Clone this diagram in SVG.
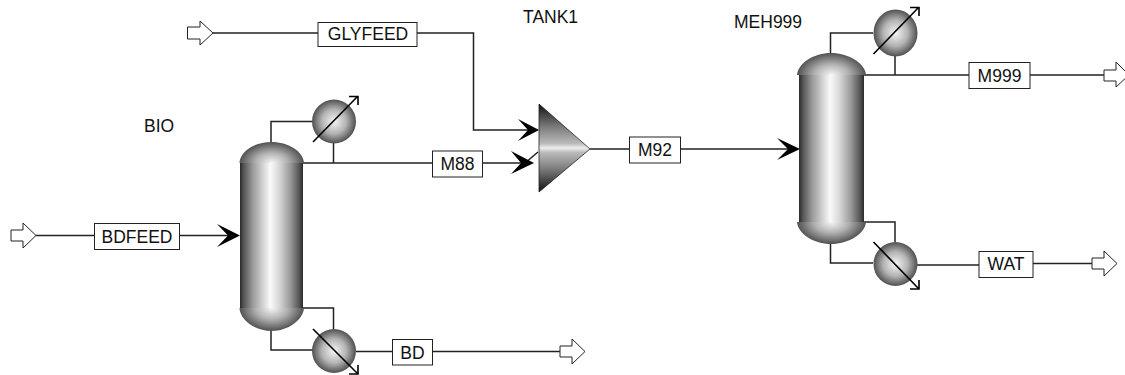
<svg xmlns="http://www.w3.org/2000/svg" width="1125" height="375" viewBox="0 0 1125 375">
<style>
text{font-family:"Liberation Sans",Arial,sans-serif;font-size:17.5px;fill:#111}
.w{fill:none;stroke:#222;stroke-width:1.5}
.box{fill:#fff;stroke:#222;stroke-width:1}
.port{fill:#fff;stroke:#222;stroke-width:1}
.ar{fill:#000}
.m{fill:none;stroke:#000;stroke-width:1.6}
.body{fill:url(#cyl)}
.top{fill:url(#dome)}
.bot{fill:url(#domeb)}
.ex{fill:url(#ball)}
</style>
<defs>
<linearGradient id="cyl" x1="0" y1="0" x2="1" y2="0"><stop offset="0" stop-color="#2a2a2a"/><stop offset=".06" stop-color="#555"/><stop offset=".2" stop-color="#999"/><stop offset=".38" stop-color="#d8d8d8"/><stop offset=".48" stop-color="#fafafa"/><stop offset=".62" stop-color="#d8d8d8"/><stop offset=".8" stop-color="#999"/><stop offset=".94" stop-color="#555"/><stop offset="1" stop-color="#2a2a2a"/></linearGradient>
<radialGradient id="dome" cx="0" cy="0" r="1" gradientTransform="translate(.5 1) scale(.5 1)"><stop offset="0" stop-color="#f5f5f5"/><stop offset=".5" stop-color="#b0b0b0"/><stop offset="1" stop-color="#505050"/></radialGradient>
<radialGradient id="domeb" cx="0" cy="0" r="1" gradientTransform="translate(.5 0) scale(.5 1)"><stop offset="0" stop-color="#f5f5f5"/><stop offset=".5" stop-color="#b0b0b0"/><stop offset="1" stop-color="#505050"/></radialGradient>
<radialGradient id="ball"><stop offset="0" stop-color="#f5f5f5"/><stop offset=".55" stop-color="#b4b4b4"/><stop offset="1" stop-color="#505050"/></radialGradient>
<linearGradient id="tri" x1="0" y1="0" x2="0" y2="1"><stop offset="0" stop-color="#111"/><stop offset=".25" stop-color="#777"/><stop offset=".45" stop-color="#bbb"/><stop offset=".5" stop-color="#eee"/><stop offset=".55" stop-color="#bbb"/><stop offset=".75" stop-color="#777"/><stop offset="1" stop-color="#111"/></linearGradient>
</defs>
<g id="connectors">
<path class="w" d="M36 235.500H94M179 235.500H228"/>
<path class="w" d="M271 142V121.500H313M303 163H432M333.500 143V163M483 163H525L538 152"/>
<path class="w" d="M303 308H333.500V329M271 331V350H313M356 351.500H392M433 351.500H560"/>
<path class="w" d="M213 33H318M417 33H473.500V130H528"/>
<path class="w" d="M590 149H629M680 149H788"/>
<path class="w" d="M830.500 53V33H873M864 75H969M895 56V75M1030 75H1104"/>
<path class="w" d="M864 222H895V242M830.500 244V263H873M917 265H979M1033 263.500H1092"/>
<path class="ar" d="M518 119L539 130L518 141L528 130Z"/>
<path class="ar" d="M511 151L534 163L511 174L521 163Z"/>
<path class="ar" d="M217 224L240 235.500L217 247L228 235.500Z"/>
<path class="ar" d="M777 138L800 149L777 160L788 149Z"/>
</g>
<g id="BDFEED-in"><path class="port" d="M11 230H23V223L36 235.500L23 248V241H11Z"/></g>
<g id="GLYFEED-in"><path class="port" d="M187.500 27H200V21L213 33L200 45V39H187.500Z"/></g>
<g id="BD-out"><path class="port" d="M560 346H572V339L585 351.500L572 364V357H560Z"/></g>
<g id="M999-out"><path class="port" d="M1104 70H1116V62L1129 75L1116 87V81H1104Z"/></g>
<g id="WAT-out"><path class="port" d="M1092 258H1104V251L1117 263.500L1104 276V269H1092Z"/></g>
<g id="BDFEED"><rect class="box" x="94.500" y="223.500" width="85" height="26"/><text x="137" y="243" text-anchor="middle">BDFEED</text></g>
<g id="GLYFEED"><rect class="box" x="318" y="22.500" width="99" height="24"/><text x="368" y="40" text-anchor="middle">GLYFEED</text></g>
<g id="M88"><rect class="box" x="432.500" y="151" width="50" height="26"/><text x="457.500" y="170" text-anchor="middle">M88</text></g>
<g id="M92"><rect class="box" x="629.500" y="137" width="51" height="26"/><text x="655" y="156" text-anchor="middle">M92</text></g>
<g id="BD"><rect class="box" x="392.500" y="339.500" width="40" height="25.500"/><text x="412.500" y="359" text-anchor="middle">BD</text></g>
<g id="M999"><rect class="box" x="969" y="62.500" width="61" height="26"/><text x="999.500" y="81.500" text-anchor="middle">M999</text></g>
<g id="WAT"><rect class="box" x="979" y="251.500" width="54" height="26"/><text x="1006" y="270" text-anchor="middle">WAT</text></g>
<g id="BIO">
<text x="144" y="132">BIO</text>
<rect class="body" x="240" y="163" width="63" height="145"/>
<path class="top" d="M239.500 163C240 151 255 142 271.500 142C288 142 303 151 304 163Z"/>
<path class="bot" d="M239.500 308C240 320 255 331 271.500 331C288 331 303 320 304 308Z"/>
</g>
<g id="BIO-cond"><circle class="ex" cx="334" cy="121.500" r="22"/><path class="m" d="M313 142L357 97M349 96.500H358V105"/></g>
<g id="BIO-reb"><circle class="ex" cx="334" cy="351" r="22"/><path class="m" d="M313 329L357 373M349 374H358V365"/></g>
<g id="TANK1"><text x="523" y="23">TANK1</text><path d="M539 104V192L590 149Z" fill="url(#tri)" stroke="#222" stroke-width=".8"/></g>
<g id="MEH999">
<text x="734" y="28">MEH999</text>
<rect class="body" x="799" y="75" width="65" height="147"/>
<path class="top" d="M797 75C798 63 814 53 831 53C848 53 865 63 866 75Z"/>
<path class="bot" d="M797 222C798 234 814 244 831 244C848 244 865 234 866 222Z"/>
</g>
<g id="MEH999-cond"><ellipse class="ex" cx="895.500" cy="33" rx="22" ry="23.500"/><path class="m" d="M873.500 54L918 8M910 7.500H919V16"/></g>
<g id="MEH999-reb"><circle class="ex" cx="895.500" cy="264" r="22"/><path class="m" d="M873.500 242L918 288M910 289H919V280"/></g>
</svg>
